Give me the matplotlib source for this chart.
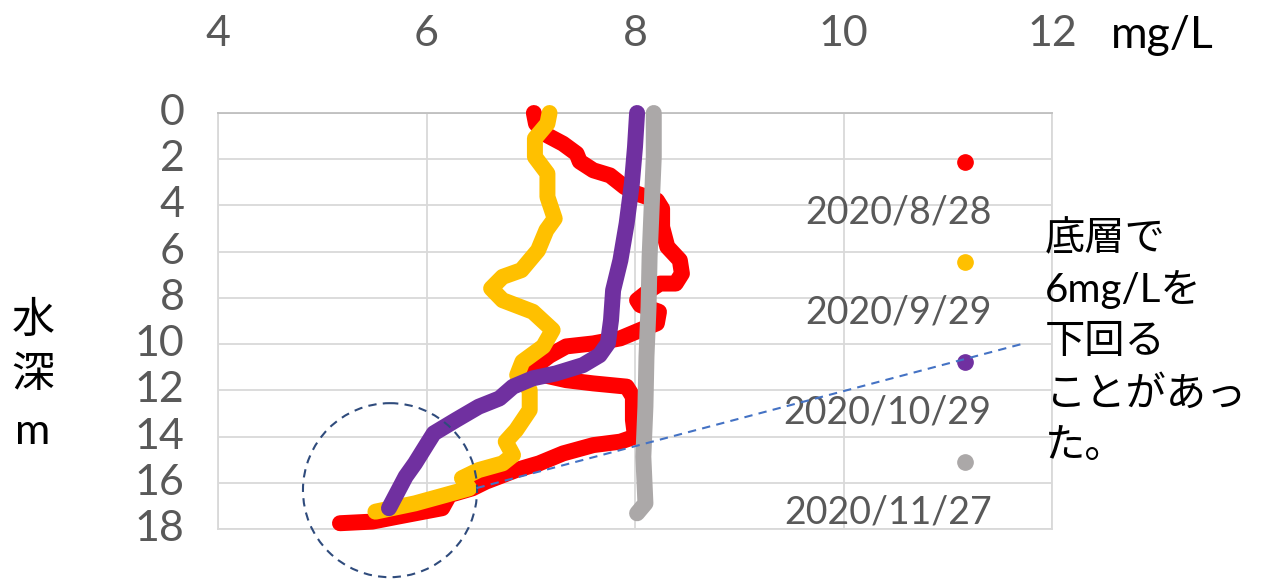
import matplotlib.pyplot as plt
from matplotlib.patches import Ellipse

plt.rcParams['font.family'] = ['Lato', 'Noto Sans CJK JP', 'DejaVu Sans']

# DO profiles: (mg/L, depth m)
do_0828 = [7.03, 7.05, 7.16, 7.31, 7.44, 7.47, 7.60, 7.76, 7.90, 8.02, 8.21, 8.26, 8.26, 8.31,
           8.43, 8.45, 8.39, 8.24, 8.14, 8.02, 8.05, 8.23, 8.21, 8.05, 7.86, 7.60, 7.34, 7.18,
           7.02, 7.12, 7.34, 7.60, 7.92, 7.98, 7.98, 8.00, 7.86, 7.60, 7.31, 7.08, 6.86, 6.57,
           6.44, 6.22, 6.15, 5.73, 5.48, 5.17]
dep_0828 = [0.0, 0.46, 0.97, 1.33, 1.76, 2.1, 2.48, 2.7, 3.2, 3.49, 3.78, 4.14, 4.93, 5.79,
            6.37, 6.95, 7.38, 7.38, 7.67, 8.1, 8.31, 8.6, 9.1, 9.39, 9.75, 9.97, 10.1, 10.5,
            11.05, 11.34, 11.56, 11.7, 11.84, 12.28, 13.28, 14.0, 14.22, 14.37, 14.73, 15.16,
            15.45, 15.95, 16.24, 16.53, 17.1, 17.46, 17.68, 17.75]

do_0929 = [7.18, 7.16, 7.04, 7.04, 7.16, 7.16, 7.23, 7.15, 7.07, 6.91, 6.73, 6.62, 6.73, 7.02,
           7.21, 7.12, 6.92, 6.87, 6.99, 6.99, 6.86, 6.76, 6.83, 6.73, 6.50, 6.34, 6.41, 6.18,
           5.89, 5.51]
dep_0929 = [0.0, 0.46, 1.1, 1.9, 2.62, 3.63, 4.57, 5.07, 5.94, 6.8, 7.09, 7.59, 8.1, 8.6,
            9.39, 10.1, 10.76, 11.34, 11.99, 12.85, 13.72, 14.22, 14.8, 15.16, 15.45, 15.8,
            16.24, 16.53, 16.89, 17.25]

do_1029 = [8.02, 8.00, 7.97, 7.92, 7.86, 7.79, 7.77, 7.74, 7.66, 7.50, 7.24, 7.02, 6.83, 6.70,
           6.50, 6.28, 6.07, 6.01, 5.89, 5.80, 5.64]
dep_1029 = [0.0, 1.47, 3.05, 4.78, 6.37, 7.67, 8.96, 9.97, 10.48, 10.91, 11.27, 11.48, 11.84,
            12.35, 12.71, 13.29, 13.86, 14.29, 15.16, 15.73, 17.1]

do_1127 = [8.18, 8.18, 8.16, 8.14, 8.13, 8.11, 8.10, 8.08, 8.10, 8.02]
dep_1127 = [0.0, 1.9, 4.06, 6.22, 8.39, 10.55, 12.71, 14.87, 16.89, 17.32]

labels = ['2020/8/28', '2020/9/29', '2020/10/29', '2020/11/27']
colors = ['#FF0000', '#FFC000', '#7030A0', '#ABA8A8']
series = [(do_0828, dep_0828), (do_0929, dep_0929), (do_1029, dep_1029), (do_1127, dep_1127)]

x_ticks = [4, 6, 8, 10, 12]
y_ticks = [0, 2, 4, 6, 8, 10, 12, 14, 16, 18]

fig = plt.figure(figsize=(12.69, 5.84), dpi=100)
ax = fig.add_axes([218 / 1269, 1 - 529 / 584, (1052 - 218) / 1269, (529 - 113) / 584])

for (xs, ys), c in zip(series, colors):
    ax.plot(xs, ys, color=c, lw=11.5, solid_capstyle='round', solid_joinstyle='round',
            clip_on=False, zorder=3)

ax.set_xlim(4, 12)
ax.set_ylim(18, 0)
ax.set_xticks(x_ticks)
ax.set_yticks(y_ticks)
ax.xaxis.tick_top()
ax.tick_params(axis='x', length=0, pad=43, labelsize=31, labelcolor='#595959')
ax.tick_params(axis='y', length=0, pad=24, labelsize=31, labelcolor='#595959')
for lab in ax.get_yticklabels():
    lab.set_verticalalignment('center')
ax.grid(True, color='#D9D9D9', lw=1.3)
ax.set_axisbelow(True)
for s in ['left', 'right', 'bottom']:
    ax.spines[s].set_color('#D9D9D9')
    ax.spines[s].set_linewidth(1.3)
ax.spines['top'].set_color('#BFBFBF')
ax.spines['top'].set_linewidth(1.3)

# legend: marker above label, stacked
leg_x = 11.17
for i, (lab, c) in enumerate(zip(labels, colors)):
    ym = 2.12 + i * 4.33
    ax.plot([leg_x], [ym], 'o', color=c, ms=11, zorder=4)
    ax.text(leg_x + 0.25, ym + 2.17, lab, ha='right', va='center', fontsize=27,
            color='#595959', zorder=4)

# axis labels
fig.text(1162 / 1269, 1 - 35 / 584, 'mg/L', ha='center', va='center', fontsize=32)
for t, yp in zip(['水', '深', 'm'], [320, 375, 432]):
    fig.text(33 / 1269, 1 - yp / 584, t, ha='center', va='center', fontsize=31)

# annotation
ax.add_patch(Ellipse((5.65, 16.32), 1.67, 7.53, fill=False, ls=(0, (4, 3)), lw=1.5,
                     edgecolor='#2F4B7C', clip_on=False, zorder=5))
ax.plot([6.48, 11.74], [16.23, 9.96], ls=(0, (4, 3)), lw=1.5, color='#4472C4',
        clip_on=False, zorder=5)
note_lines = ['底層で', '6mg/Lを', '下回る', 'ことがあっ', 'た。']
for i, t in enumerate(note_lines):
    fig.text(1045 / 1269, 1 - (238 + i * 52) / 584, t, ha='left', va='center', fontsize=29)

fig.savefig('out.png', dpi=100)
